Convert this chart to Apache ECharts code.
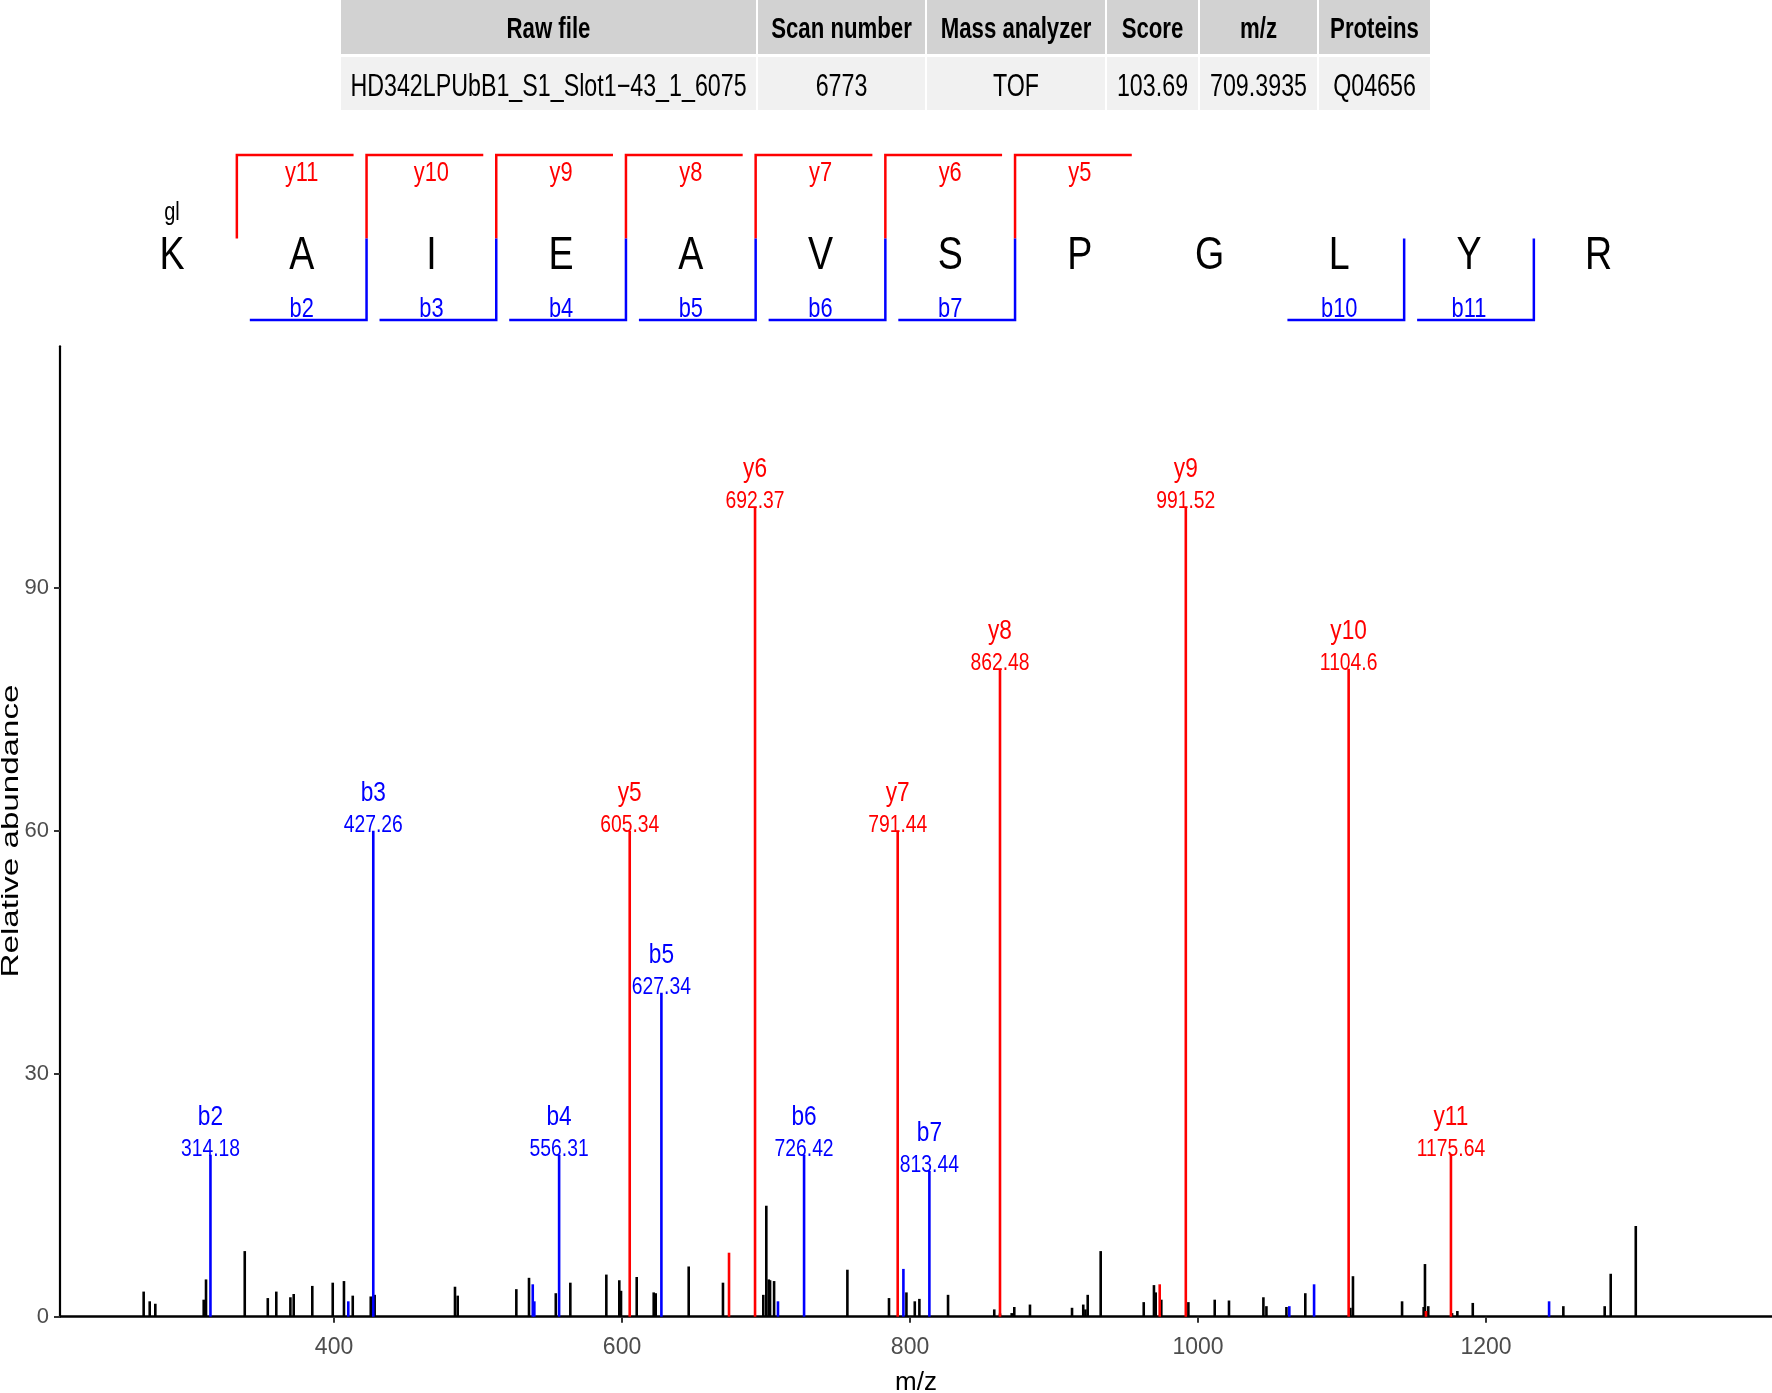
<!DOCTYPE html>
<html>
<head>
<meta charset="utf-8">
<script src="https://cdn.jsdelivr.net/npm/echarts@6/dist/echarts.min.js"></script>
<style>
html,body{margin:0;padding:0;background:#fff;}
#c{width:1772px;height:1393px;}
</style>
</head>
<body>
<div id="c"></div>
<script>
// ---------------- DATA ----------------
const tableHeaders = ['Raw file', 'Scan number', 'Mass analyzer', 'Score', 'm/z', 'Proteins'];
const tableValues = ['HD342LPUbB1_S1_Slot1\u221243_1_6075', '6773', 'TOF', '103.69', '709.3935', 'Q04656'];

const residues = ['K', 'A', 'I', 'E', 'A', 'V', 'S', 'P', 'G', 'L', 'Y', 'R'];
const modifications = ['gl', '', '', '', '', '', '', '', '', '', '', ''];
const seqYIons = [11, 10, 9, 8, 7, 6, 5];
const seqBIons = [2, 3, 4, 5, 6, 7, 10, 11];

// annotated b ions
const bLabels = ['b2', 'b3', 'b4', 'b5', 'b6', 'b7'];
const bMz = [314.18, 427.26, 556.31, 627.34, 726.42, 813.44];
const bInt = [20, 60, 20, 40, 20, 18];
// annotated y ions
const yLabels = ['y5', 'y6', 'y7', 'y8', 'y9', 'y10', 'y11'];
const yMz = [605.34, 692.37, 791.44, 862.48, 991.52, 1104.6, 1175.64];
const yInt = [60, 100, 60, 80, 100, 80, 20];

// unlabelled coloured peaks
const blueMz = [409.9, 538.0, 539.1, 708.3, 795.4, 1063.4, 1080.6, 1243.8];
const blueInt = [1.9, 4.0, 1.9, 1.9, 5.9, 1.3, 4.0, 1.9];
const redMz = [674.3, 973.4, 1158.3];
const redInt = [7.9, 4.0, 0.7];

// unassigned peaks
const noiseMz = [267.8, 272.0, 275.9, 309.5, 311.1, 338.0, 354.0, 359.9, 369.7, 372.0, 384.9, 399.1, 406.9, 413.0, 425.5, 428.2,
  484.0, 485.9, 526.6, 535.4, 554.0, 564.1, 589.1, 598.1, 599.3, 610.2, 622.0, 623.4, 646.3, 670.1,
  698.1, 700.2, 701.9, 702.8, 705.6, 756.5, 785.4, 797.5, 803.3, 806.5, 826.4,
  858.5, 862.5, 870.6, 872.4, 883.3, 912.5, 920.3, 921.8, 923.4, 932.4, 962.3, 969.4, 970.6, 974.5, 993.3,
  1011.6, 1021.5, 1045.4, 1047.5, 1061.4, 1074.5, 1105.8, 1107.6, 1141.7, 1156.7, 1157.6, 1159.9, 1176.4, 1180.1, 1190.8,
  1253.7, 1282.4, 1286.6, 1304.0];
const noiseInt = [3.1, 1.9, 1.6, 2.1, 4.6, 8.1, 2.3, 3.1, 2.4, 2.8, 3.8, 4.2, 4.4, 2.6, 2.5, 2.7,
  3.7, 2.6, 3.4, 4.8, 2.9, 4.2, 5.2, 4.5, 3.2, 4.9, 3.0, 2.9, 6.2, 4.2,
  2.7, 13.7, 4.6, 4.5, 4.4, 5.8, 2.3, 3.0, 1.9, 2.2, 2.7,
  0.9, 0.4, 0.45, 1.2, 1.5, 1.1, 1.5, 0.9, 2.7, 8.1, 1.8, 3.9, 3.0, 2.1, 1.8,
  2.1, 2.0, 2.4, 1.3, 1.2, 2.9, 1.1, 5.0, 1.9, 1.2, 6.5, 1.3, 0.45, 0.7, 1.7,
  1.3, 1.3, 5.3, 11.2];

const xTicks = [400, 600, 800, 1000, 1200];
const yTicks = [0, 30, 60, 90];

// ---------------- STYLE ----------------
const REG = '"Liberation Sans", Arial, Helvetica, sans-serif';
const RED = '#ff0000', BLUE = '#0000ff';

function zip(a, b, c) { return a.map((v, i) => c ? [v, b[i], c[i]] : [v, b[i]]); }

function stickSeries(name, data, color, labelled) {
  return {
    name: name,
    type: 'custom',
    clip: false,
    encode: { x: 0, y: 1 },
    data: data,
    renderItem: function (params, api) {
      const mz = api.value(0), h = api.value(1);
      const p0 = api.coord([mz, 0]);
      const p1 = api.coord([mz, h]);
      const children = [{
        type: 'line',
        shape: { x1: p0[0], y1: p0[1], x2: p1[0], y2: p1[1] },
        style: { stroke: color, lineWidth: 2.6 }
      }];
      if (labelled) {
        const item = data[params.dataIndex];
        children.push({
          type: 'text', x: p1[0], y: p1[1] - 5, scaleX: 0.84,
          style: { text: String(item[0]), fill: color, font: '23px ' + REG, textAlign: 'center', textVerticalAlign: 'middle' }
        });
        children.push({
          type: 'text', x: p1[0], y: p1[1] - 37, scaleX: 0.84,
          style: { text: item[2], fill: color, font: '27px ' + REG, textAlign: 'center', textVerticalAlign: 'middle' }
        });
      }
      return { type: 'group', children: children };
    }
  };
}

// ---------------- GRAPHIC: table + sequence ----------------
const graphics = [];
const colX = [340, 757, 926, 1106, 1199, 1318, 1431];
for (let j = 0; j < tableHeaders.length; j++) {
  const x0 = colX[j] + 1, w = colX[j + 1] - colX[j] - 2;
  graphics.push({ type: 'rect', shape: { x: x0, y: 0, width: w, height: 54 }, style: { fill: '#d2d2d2' } });
  graphics.push({ type: 'rect', shape: { x: x0, y: 57, width: w, height: 53 }, style: { fill: '#f1f1f1' } });
  graphics.push({ type: 'text', x: x0 + w / 2, y: 30, scaleX: 0.74, style: { text: tableHeaders[j], font: 'bold 30px ' + REG, fill: '#000', textAlign: 'center', textVerticalAlign: 'middle' } });
  graphics.push({ type: 'text', x: x0 + w / 2, y: 87, scaleX: 0.75, style: { text: tableValues[j], font: '31px ' + REG, fill: '#000', textAlign: 'center', textVerticalAlign: 'middle' } });
}

const seqX0 = 172, seqStep = 129.7;
const yTop = 155, ySplit = 238.5, yBot = 320;
residues.forEach((r, i) => {
  graphics.push({ type: 'text', x: seqX0 + i * seqStep, y: 256, scaleX: 0.8, style: { text: r, font: '47px ' + REG, fill: '#000', textAlign: 'center', textVerticalAlign: 'middle' } });
  if (modifications[i]) {
    graphics.push({ type: 'text', x: seqX0 + i * seqStep, y: 213, scaleX: 0.8, style: { text: modifications[i], font: '25px ' + REG, fill: '#000', textAlign: 'center', textVerticalAlign: 'middle' } });
  }
});
const N = residues.length;
seqYIons.forEach(n => {
  const i = N - n - 1; // boundary after residue i
  const bx = seqX0 + (i + 0.5) * seqStep;
  graphics.push({ type: 'polyline', shape: { points: [[bx, ySplit], [bx, yTop], [bx + 0.9 * seqStep, yTop]] }, style: { stroke: RED, lineWidth: 2.5, fill: null } });
  graphics.push({ type: 'text', x: seqX0 + (i + 1) * seqStep, y: 173, scaleX: 0.78, style: { text: 'y' + n, font: '28px ' + REG, fill: RED, textAlign: 'center', textVerticalAlign: 'middle' } });
});
seqBIons.forEach(n => {
  const i = n - 1;
  const bx = seqX0 + (i + 0.5) * seqStep;
  graphics.push({ type: 'polyline', shape: { points: [[bx, ySplit], [bx, yBot], [bx - 0.9 * seqStep, yBot]] }, style: { stroke: BLUE, lineWidth: 2.5, fill: null } });
  graphics.push({ type: 'text', x: seqX0 + i * seqStep, y: 309, scaleX: 0.78, style: { text: 'b' + n, font: '28px ' + REG, fill: BLUE, textAlign: 'center', textVerticalAlign: 'middle' } });
});

// y-axis title (stretched like reference)
graphics.push({ type: 'text', x: 11, y: 831, rotation: Math.PI / 2, scaleX: 1.38,
  style: { text: 'Relative abundance', font: '24px ' + REG, fill: '#000', textAlign: 'center', textVerticalAlign: 'middle' } });

// ---------------- CHART ----------------
const chart = echarts.init(document.getElementById('c'));
const option = {
  animation: false,
  backgroundColor: '#ffffff',
  grid: { left: 60, right: 0, top: 346.3, bottom: 76.3, outerBoundsMode: 'none', containLabel: false },
  xAxis: {
    type: 'value', min: 209.7, max: 1398.6,
    name: 'm/z', nameLocation: 'middle', nameGap: 53,
    nameTextStyle: { fontFamily: REG, fontSize: 26, color: '#000' },
    axisLine: { show: true, onZero: false, lineStyle: { color: '#000', width: 2.6 } },
    axisTick: { show: true, length: 6, customValues: xTicks, lineStyle: { color: '#333', width: 2 } },
    axisLabel: { customValues: xTicks, margin: 19, fontFamily: REG, fontSize: 23, color: '#4d4d4d', formatter: v => String(v) },
    splitLine: { show: false }
  },
  yAxis: {
    type: 'value', min: 0, max: 119.8,
    axisLine: { show: true, lineStyle: { color: '#000', width: 2.2 } },
    axisTick: { show: true, length: 6, customValues: yTicks, lineStyle: { color: '#333', width: 2 } },
    axisLabel: { customValues: yTicks, margin: 11, fontFamily: REG, fontSize: 22, color: '#4d4d4d', formatter: v => String(v) },
    splitLine: { show: false }
  },
  graphic: graphics,
  series: [
    stickSeries('other peaks', zip(noiseMz, noiseInt), '#000000', false),
    stickSeries('b (unlabelled)', zip(blueMz, blueInt), BLUE, false),
    stickSeries('y (unlabelled)', zip(redMz, redInt), RED, false),
    stickSeries('b ions', zip(bMz, bInt, bLabels), BLUE, true),
    stickSeries('y ions', zip(yMz, yInt, yLabels), RED, true)
  ]
};
chart.setOption(option);
</script>
</body>
</html>
